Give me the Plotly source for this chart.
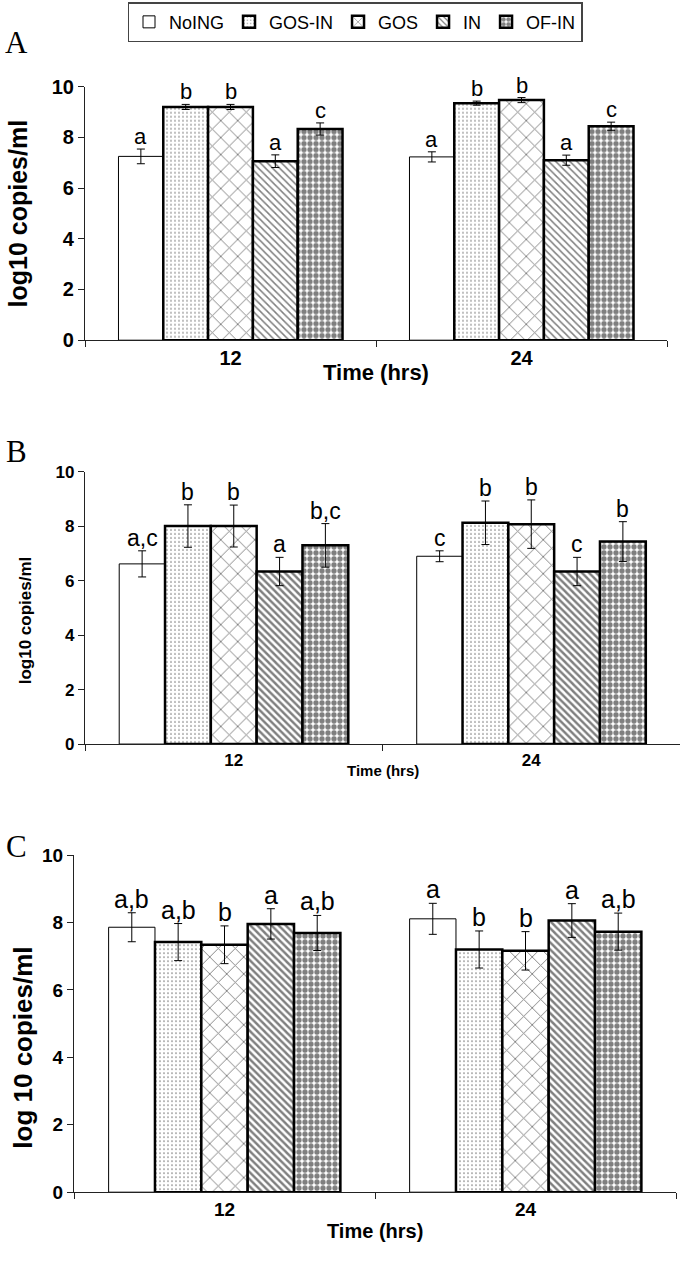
import plotly.graph_objects as go

# ---------------- data ----------------
series = ["NoING", "GOS-IN", "GOS", "IN", "OF-IN"]
times = ["12", "24"]

a_means = [[7.25, 7.23], [9.20, 9.35], [9.20, 9.47], [7.06, 7.10], [8.33, 8.44]]
a_errs = [[0.29, 0.20], [0.10, 0.08], [0.10, 0.10], [0.25, 0.20], [0.24, 0.16]]
a_letters = [["a", "a"], ["b", "b"], ["b", "b"], ["a", "a"], ["c", "c"]]

b_means = [[6.62, 6.90], [8.01, 8.13], [8.01, 8.08], [6.34, 6.34], [7.30, 7.44]]
b_errs = [[0.48, 0.20], [0.78, 0.80], [0.77, 0.89], [0.52, 0.52], [0.80, 0.73]]
b_letters = [["a,c", "c"], ["b", "b"], ["b", "b"], ["a", "c"], ["b,c", "b"]]

c_means = [[7.86, 8.11], [7.42, 7.20], [7.34, 7.16], [7.96, 8.06], [7.69, 7.73]]
c_errs = [[0.43, 0.46], [0.55, 0.55], [0.56, 0.57], [0.45, 0.50], [0.52, 0.55]]
c_letters = [["a,b", "a"], ["a,b", "b"], ["b", "b"], ["a", "a"], ["a,b", "a,b"]]

y_titles = ["log10 copies/ml", "log10 copies/ml", "log 10 copies/ml"]
x_title = "Time (hrs)"
panel_labels = ["A", "B", "C"]

# ---------------- styles ----------------
W, H = 680, 1270
SANS = "Liberation Sans, Arial, sans-serif"
SERIF = "Liberation Serif, Times New Roman, serif"
BARGAP = 0.23


def px_x(x):
    return x / W


def px_y(y):
    return 1 - y / H


def patterns_for(panel):
    in_sol = 0.3 if panel == 0 else 0.48
    return [
        dict(shape="", fgcolor="black", bgcolor="white"),
        dict(shape=".", size=4, solidity=0.14, fgcolor="black", bgcolor="white"),
        dict(shape="x", size=12, solidity=0.15, fgcolor="black", bgcolor="white"),
        dict(shape="\\", size=5, solidity=in_sol, fgcolor="black", bgcolor="white"),
        dict(shape=".", size=6, solidity=0.62, fgcolor="black", bgcolor="white"),
    ]


line_widths = [1, 2.5, 2.5, 2.5, 2.5]

# panel geometry in reference pixels: (x0, x1, ytop(10), ybottom(0))
geo = [(85, 667, 77, 335), (85, 680, 469, 746), (74, 676, 859, 1202)]
tick_sizes = [20, 17, 19]
ytitle_sizes = [25, 17, 26]
ytitle_pos = [(18, 206), (25, 620), (23, 1055)]     # centre of the rotated y titles
xtitle_sizes = [22, 15, 20]
xtitle_y = [368, 773, 1241]
letter_sizes = [22, 23, 25]

panels = [(a_means, a_errs, a_letters), (b_means, b_errs, b_letters), (c_means, c_errs, c_letters)]

fig = go.Figure()
annotations = []
layout = {}

for p, (means, errs, letters) in enumerate(panels):
    suf = "" if p == 0 else str(p + 1)
    x0, x1, yt, yb = geo[p]
    xd = [max(px_x(x0), 0.0), min(px_x(x1), 1.0)]
    yd = [px_y(yb), px_y(yt)]
    pats = patterns_for(p)
    for i, name in enumerate(series):
        fig.add_trace(go.Bar(
            name=name, x=times, y=means[i],
            xaxis="x" + suf, yaxis="y" + suf,
            marker=dict(color="white", line=dict(color="black", width=line_widths[i]),
                        pattern=pats[i]),
            error_y=dict(type="data", array=errs[i], visible=True,
                         color="black", thickness=1, width=4),
            legendgroup=name, showlegend=(p == 0),
        ))
        # significance letters, positioned over each bar of the group
        bw = (1 - BARGAP) / len(series)
        for j in range(len(times)):
            xc = j - (1 - BARGAP) / 2 + (i + 0.5) * bw
            annotations.append(dict(
                x=xc, y=means[i][j] + errs[i][j], xref="x" + suf, yref="y" + suf,
                text=letters[i][j], showarrow=False, yanchor="bottom", yshift=-2,
                font=dict(family=SANS, size=letter_sizes[p], color="black"),
            ))
    # x-axis title, centred under the axis
    annotations.append(dict(
        x=(xd[0] + xd[1]) / 2, y=px_y(xtitle_y[p]), xref="paper", yref="paper",
        text=x_title, showarrow=False, xanchor="center", yanchor="middle",
        font=dict(family=SANS, size=xtitle_sizes[p], color="black", weight="bold"),
    ))
    # y-axis title (rotated)
    tx, ty = ytitle_pos[p]
    annotations.append(dict(
        x=px_x(tx), y=px_y(ty), xref="paper", yref="paper", textangle=-90,
        text=y_titles[p], showarrow=False, xanchor="center", yanchor="middle",
        font=dict(family=SANS, size=ytitle_sizes[p], color="black", weight="bold"),
    ))
    layout["xaxis" + suf] = dict(
        domain=xd, anchor="y" + suf, type="category",
        showline=True, linecolor="#222", linewidth=1.2,
        ticks="outside", tickson="boundaries", ticklen=6, tickcolor="#222",
        tickfont=dict(family=SANS, size=tick_sizes[p], color="black", weight="bold"),
        showgrid=False, fixedrange=True,
    )
    layout["yaxis" + suf] = dict(
        domain=yd, anchor="x" + suf, range=[0, 10], dtick=2,
        showline=True, linecolor="#222", linewidth=1.2,
        ticks="outside", ticklen=6, tickcolor="#222",
        tickfont=dict(family=SANS, size=tick_sizes[p], color="black", weight="bold"),
        showgrid=False, zeroline=False, fixedrange=True,
    )

# panel letters (reference pixel positions of their left edge / centre line)
label_pos = [(3, 32), (4, 448), (4, 850)]
for lab, (lx, ly) in zip(panel_labels, label_pos):
    annotations.append(dict(
        x=px_x(lx), y=px_y(ly), xref="paper", yref="paper", text=lab,
        showarrow=False, xanchor="left", yanchor="middle",
        font=dict(family=SERIF, size=31, color="black"),
    ))

fig.update_layout(
    width=W, height=H, autosize=False,
    margin=dict(l=0, r=0, t=0, b=0),
    paper_bgcolor="white", plot_bgcolor="white",
    barmode="group", bargap=BARGAP, bargroupgap=0,
    showlegend=True,
    legend=dict(orientation="h", x=px_x(355), y=1 + 9 / H, xanchor="center", yanchor="top",
                bordercolor="#444", borderwidth=1.5, bgcolor="white",
                font=dict(family=SANS, size=18, color="black"),
                itemwidth=30, traceorder="normal"),
    annotations=annotations,
    **layout,
)

fig.write_html("out.html", config={"displayModeBar": False},
               post_script="document.body.style.margin='0';")
